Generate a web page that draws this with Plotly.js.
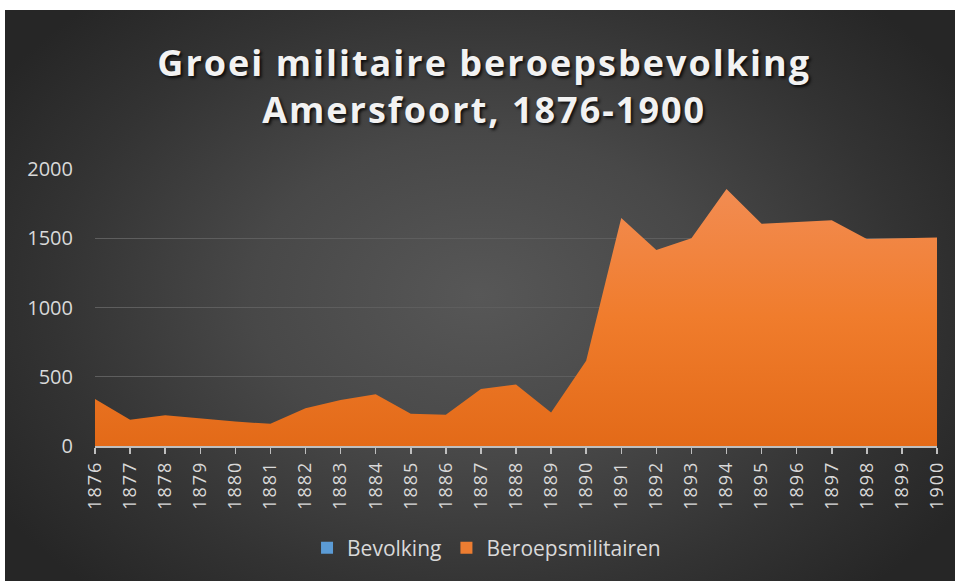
<!DOCTYPE html>
<html>
<head>
<meta charset="utf-8">
<script src="https://cdn.plot.ly/plotly-3.0.1.min.js"></script>
<style>
  html, body { margin: 0; padding: 0; background: #ffffff; }
  #wrap { position: relative; width: 955px; height: 581px; overflow: hidden; }
  #bg { position: absolute; left: 5px; top: 10px; width: 950px; height: 571px;
        background: radial-gradient(ellipse 60% 70% at 50% 50%, #575757 0%, #484848 40%, #333333 75%, #262626 100%); }
  #chart { position: absolute; left: 0; top: 0; width: 955px; height: 581px; }
  #chart .gtitle { letter-spacing: 2px; }
  #chart .xtick text { letter-spacing: 2px; }
</style>
</head>
<body>
<div id="wrap">
  <div id="bg"></div>
  <div id="chart"></div>
</div>
<script>
const years = ['1876','1877','1878','1879','1880','1881','1882','1883','1884','1885','1886','1887','1888','1889','1890','1891','1892','1893','1894','1895','1896','1897','1898','1899','1900'];
const bevolking = [null,null,null,null,null,null,null,null,null,null,null,null,null,null,null,null,null,null,null,null,null,null,null,null,null];
const beroepsmilitairen = [340,190,222,198,176,160,273,333,374,232,225,411,444,241,616,1647,1415,1500,1855,1604,1616,1630,1495,1502,1505];
const yTicks = [0,500,1000,1500,2000];

const traces = [
  {
    x: years, y: beroepsmilitairen, name: 'Beroepsmilitairen', type: 'scatter', mode: 'lines',
    fill: 'tozeroy', line: {width: 0, color: '#ED7D31'},
    fillcolor: '#ED7D31', showlegend: false,
    fillgradient: {type: 'vertical', colorscale: [[0, '#E36A18'], [0.5, '#F07C2C'], [1, '#F28C52']]}
  },
  {
    x: years, y: bevolking, name: 'Bevolking', type: 'bar',
    marker: {color: '#5B9BD5', line: {width: 0}}
  },
  {
    x: years, y: years.map(() => null), name: 'Beroepsmilitairen', type: 'bar',
    marker: {color: '#ED7D31', line: {width: 0}}
  }
];

const layout = {
  width: 955, height: 581,
  paper_bgcolor: 'rgba(0,0,0,0)', plot_bgcolor: 'rgba(0,0,0,0)',
  margin: {l: 95, r: 18, t: 169, b: 135},
  title: {
    text: 'Groei militaire beroepsbevolking<br>Amersfoort, 1876-1900',
    x: 0.507, xanchor: 'center', yref: 'container', y: 1 - 76/581, yanchor: 'middle',
    font: {family: 'Open Sans, sans-serif', size: 36, color: '#f2f2f2', weight: 700, shadow: '2px 2px 3px rgba(0,0,0,0.8)'}
  },
  showlegend: true,
  legend: {
    orientation: 'h', x: 0.465, xanchor: 'center', yref: 'container', y: 1 - 548/581, yanchor: 'middle',
    font: {family: 'Open Sans, sans-serif', size: 21, color: '#d9d9d9'},
    bgcolor: 'rgba(0,0,0,0)', traceorder: 'normal', itemwidth: 30
  },
  xaxis: {
    type: 'category', range: [0, 24], tickangle: -90,
    tickfont: {family: 'Open Sans, sans-serif', size: 18, color: '#d9d9d9'},
    showgrid: false, zeroline: false,
    showline: true, linecolor: '#bfbfbf', linewidth: 1.5,
    ticks: 'outside', ticklen: 6, tickcolor: '#bfbfbf', tickwidth: 1.5
  },
  yaxis: {
    range: [0, 2000], tickvals: yTicks, ticktext: yTicks.map(String),
    tickfont: {family: 'Open Sans, sans-serif', size: 20, color: '#d9d9d9'},
    showgrid: true, gridcolor: '#5e5e5e', gridwidth: 1,
    zeroline: false, showline: false, ticks: '', ticklabelstandoff: 21
  }
};

Plotly.newPlot('chart', traces, layout, {displayModeBar: false, staticPlot: true});
</script>
</body>
</html>
